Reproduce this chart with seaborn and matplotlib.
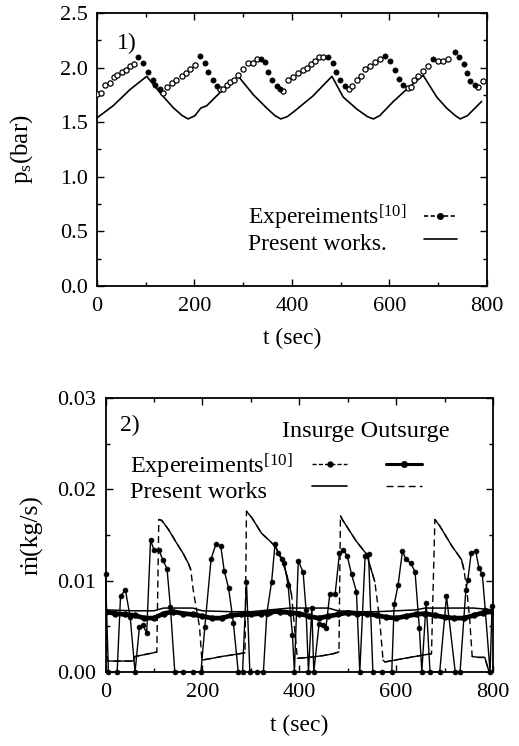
import numpy as np
import pandas as pd
import matplotlib
matplotlib.use("Agg")
import matplotlib.pyplot as plt
import seaborn as sns
from matplotlib.lines import Line2D
from matplotlib.ticker import MultipleLocator, FormatStrFormatter

# ---------------- data: panel 1 (pressure) ----------------
ps_sim_t = [0, 33, 68, 102, 133, 157, 175, 187, 201, 213, 225, 252, 290, 321, 348, 365,
            377, 390, 402, 443, 482, 505, 533, 555, 567, 580, 608, 635, 669, 697, 717,
            735, 745, 760, 789]
ps_sim_p = [1.54, 1.65, 1.80, 1.92, 1.75, 1.63, 1.56, 1.53, 1.56, 1.63, 1.65, 1.77, 1.92,
            1.75, 1.63, 1.56, 1.53, 1.55, 1.59, 1.74, 1.92, 1.73, 1.62, 1.55, 1.53, 1.56,
            1.69, 1.80, 1.93, 1.73, 1.63, 1.56, 1.53, 1.56, 1.69]

ps_exp_t = [0, 8, 16, 27, 34, 42, 51, 60, 68, 76, 85, 95, 105, 114, 120, 129, 135, 143,
            153, 163, 174, 183, 191, 201, 211, 222, 228, 237, 246, 252, 259, 266, 273,
            281, 290, 300, 310, 319, 328, 336, 345, 351, 358, 369, 375, 382, 392, 403,
            413, 422, 430, 439, 447, 456, 464, 474, 485, 490, 499, 509, 516, 524, 533,
            541, 550, 560, 570, 581, 591, 601, 611, 620, 628, 639, 645, 650, 659, 669,
            680, 690, 700, 710, 721, 734, 743, 752, 758, 765, 775, 782, 792]
ps_exp_p = [1.755, 1.77, 1.84, 1.855, 1.91, 1.93, 1.96, 1.98, 2.01, 2.03, 2.10, 2.045,
            1.96, 1.89, 1.84, 1.80, 1.77, 1.82, 1.855, 1.89, 1.92, 1.95, 1.99, 2.02, 2.11,
            2.04, 1.96, 1.89, 1.83, 1.80, 1.80, 1.84, 1.87, 1.89, 1.93, 1.99, 2.04, 2.04,
            2.075, 2.08, 2.05, 1.96, 1.89, 1.83, 1.80, 1.79, 1.89, 1.91, 1.95, 1.98, 2.00,
            2.03, 2.06, 2.10, 2.10, 2.10, 2.04, 1.96, 1.89, 1.83, 1.80, 1.83, 1.89, 1.92,
            1.99, 2.01, 2.05, 2.08, 2.11, 2.06, 1.98, 1.90, 1.84, 1.81, 1.82, 1.89, 1.92,
            1.97, 2.01, 2.08, 2.06, 2.06, 2.08, 2.14, 2.10, 2.03, 1.95, 1.88, 1.84, 1.82,
            1.88]

# ---------------- data: panel 2 (mass flow) ----------------
exp_in_t = [0, 6, 24, 31, 41, 51, 61, 70, 77, 85, 93, 100, 110, 118, 127, 134, 143, 160,
            180, 197, 205, 218, 228, 238, 245, 254, 264, 274, 283, 291, 298, 312, 326,
            333, 343, 350, 357, 365, 369, 377, 386, 390, 398, 408, 414, 419, 426, 430,
            441, 448, 455, 463, 474, 483, 491, 499, 508, 518, 525, 536, 543, 552, 570,
            591, 596, 604, 613, 620, 630, 639, 648, 653, 662, 670, 690, 704, 722, 732,
            744, 748, 755, 764, 771, 778, 784, 794, 798]
exp_in_v = [0.0107, 0.0, 0.0, 0.0083, 0.0090, 0.0060, 0.0, 0.0049, 0.0051, 0.0043, 0.0144,
            0.0134, 0.0134, 0.0123, 0.0113, 0.0071, 0.0, 0.0, 0.0, 0.0, 0.0049, 0.0124,
            0.0140, 0.0138, 0.0111, 0.0092, 0.0054, 0.0, 0.0, 0.0099, 0.0, 0.0, 0.0,
            0.0064, 0.0099, 0.0140, 0.0130, 0.0124, 0.0119, 0.0095, 0.0040, 0.0, 0.0122,
            0.0109, 0.0068, 0.0, 0.0070, 0.0, 0.0053, 0.0052, 0.0048, 0.0085, 0.0085,
            0.0130, 0.0134, 0.0127, 0.0107, 0.0088, 0.0, 0.0127, 0.0129, 0.0, 0.0,
            0.0, 0.0074, 0.0095, 0.0132, 0.0124, 0.0119, 0.0110, 0.0048, 0.0, 0.0076, 0.0,
            0.0, 0.0083, 0.0, 0.0, 0.0090, 0.0101, 0.0130, 0.0133, 0.0114, 0.0107, 0.0068,
            0.0, 0.0072]

exp_out_t = [0, 20, 40, 60, 80, 100, 120, 140, 160, 180, 200, 220, 240, 260, 280, 300,
             320, 340, 360, 380, 400, 420, 440, 460, 480, 500, 520, 540, 560, 580, 600,
             620, 640, 660, 680, 700, 720, 740, 760, 780, 800]
exp_out_v = [0.0066, 0.0064, 0.0063, 0.0062, 0.0059, 0.0059, 0.0064, 0.0066, 0.0064,
             0.0063, 0.0061, 0.0059, 0.0059, 0.0062, 0.0063, 0.0063, 0.0064, 0.0066,
             0.0066, 0.0065, 0.0064, 0.0061, 0.0059, 0.0061, 0.0063, 0.0065, 0.0064,
             0.0064, 0.0062, 0.0060, 0.0059, 0.0061, 0.0063, 0.0064, 0.0062, 0.0060,
             0.0059, 0.0059, 0.0062, 0.0065, 0.0066]

sim_in_t = [0, 60, 100, 120, 180, 200, 260, 300, 340, 380, 460, 480, 520, 560, 640, 660,
            760, 800]
sim_in_v = [0.0068, 0.0067, 0.0067, 0.0070, 0.0070, 0.0067, 0.0066, 0.0066, 0.0068,
            0.0070, 0.0070, 0.0067, 0.0066, 0.0066, 0.0068, 0.0070, 0.0070, 0.0068]

sim_out_t = [0, 4, 30, 57, 61, 80, 99, 106, 110, 116, 130, 147, 160, 171, 176, 181, 188,
             194, 199, 220, 240, 265, 288, 291, 302, 322, 350, 367, 377, 384, 390, 396,
             420, 450, 470, 482, 485, 490, 518, 539, 545, 556, 566, 573, 577, 618, 650,
             673, 680, 690, 715, 735, 740, 746, 752, 757, 770, 783, 792]
sim_out_v = [0.0066, 0.0012, 0.0012, 0.0012, 0.0017, 0.0019, 0.0021, 0.0022, 0.0167,
             0.0166, 0.0156, 0.0141, 0.0130, 0.0119, 0.0112, 0.0090, 0.0068, 0.0050,
             0.0013, 0.0015, 0.0017, 0.0019, 0.0021, 0.0176, 0.0169, 0.0152, 0.0138,
             0.0119, 0.0101, 0.0085, 0.0050, 0.0015, 0.0016, 0.0018, 0.0020, 0.0022,
             0.0171, 0.0166, 0.0143, 0.0129, 0.0118, 0.0099, 0.0057, 0.0013, 0.0011,
             0.0015, 0.0018, 0.0020, 0.0167, 0.0160, 0.0138, 0.0123, 0.0112, 0.0090,
             0.0057, 0.0017, 0.0016, 0.0016, 0.0]

# ---------------- style ----------------
sns.set_theme(style="ticks")
plt.rcParams["font.family"] = ["Liberation Serif", "DejaVu Serif"]
plt.rcParams["mathtext.fontset"] = "custom"
plt.rcParams["mathtext.rm"] = "Liberation Serif"
plt.rcParams["mathtext.it"] = "Liberation Serif:italic"
plt.rcParams["mathtext.bf"] = "Liberation Serif:bold"
plt.rcParams["text.color"] = "black"
plt.rcParams["axes.labelcolor"] = "black"

fig = plt.figure(figsize=(5.19, 7.46), dpi=100)
ax1 = fig.add_axes([0.1869, 0.6166, 0.7514, 0.3660])
ax2 = fig.add_axes([0.2033, 0.0992, 0.7466, 0.3673])

K = "black"

# ---------------- panel 1 ----------------
df_sim = pd.DataFrame({"t": ps_sim_t, "p": ps_sim_p})
sns.lineplot(data=df_sim, x="t", y="p", ax=ax1, color=K, lw=1.2,
             estimator=None, sort=False)

df_exp = pd.DataFrame({"t": ps_exp_t, "p": ps_exp_p})
falling = np.r_[np.diff(df_exp["p"].values) < 0, False]
sns.scatterplot(data=df_exp[~falling], x="t", y="p", ax=ax1, marker="o", s=14,
                facecolor="white", edgecolor=K, linewidth=0.9, zorder=3)
sns.scatterplot(data=df_exp[falling], x="t", y="p", ax=ax1, marker="o", s=14,
                color=K, edgecolor=K, linewidth=0.5, zorder=3)

ax1.set_xlim(0, 800)
ax1.set_ylim(0, 2.5)
ax1.xaxis.set_major_locator(MultipleLocator(200))
ax1.xaxis.set_minor_locator(MultipleLocator(100))
ax1.yaxis.set_major_locator(MultipleLocator(0.5))
ax1.yaxis.set_minor_locator(MultipleLocator(0.25))
ax1.yaxis.set_major_formatter(FormatStrFormatter("%.1f"))
ax1.set_xlabel("t (sec)", fontsize=17)
ax1.set_ylabel("p$_\\mathrm{s}$(bar)", fontsize=18)
ax1.text(0.077, 0.89, "1)", transform=ax1.transAxes, fontsize=17,
         ha="center", va="center")

blank = Line2D([], [], linestyle="none")
h_exp1 = Line2D([], [], color=K, lw=1.2, ls=(0, (2.5, 1.5)), marker="o", ms=4)
h_sim1 = Line2D([], [], color=K, lw=1.2)
ax1.legend([blank, blank, h_exp1, h_sim1],
           ["Expereiments$^{[10]}$", "Present works.", "", ""],
           ncol=2, frameon=False, fontsize=17, handlelength=1.36,
           handletextpad=0.3, columnspacing=0.76, labelspacing=0.05,
           borderpad=0, borderaxespad=0, loc="upper left",
           bbox_to_anchor=(0.4025, 0.728), bbox_transform=fig.transFigure)

# ---------------- panel 2 ----------------
df_in = pd.DataFrame({"t": exp_in_t, "v": exp_in_v})
sns.lineplot(data=df_in, x="t", y="v", ax=ax2, color=K, lw=1.0, marker="o",
             markersize=3.5, markeredgecolor=K, markeredgewidth=0.5,
             estimator=None, sort=False, clip_on=False, zorder=3)

df_out = pd.DataFrame({"t": exp_out_t, "v": exp_out_v})
sns.lineplot(data=df_out, x="t", y="v", ax=ax2, color=K, lw=3.4, marker="o",
             markersize=4, markeredgecolor=K, markeredgewidth=0.5,
             estimator=None, sort=False, zorder=3)

df_sin = pd.DataFrame({"t": sim_in_t, "v": sim_in_v})
sns.lineplot(data=df_sin, x="t", y="v", ax=ax2, color=K, lw=1.1,
             estimator=None, sort=False)

pt = np.array(sim_out_t, dtype=float)
pv = np.array(sim_out_v, dtype=float)
steep = np.abs(np.diff(pv) / np.diff(pt)) > 0.00025
df_sout = pd.DataFrame({"t": pt, "v": pv, "seg": np.r_[0, np.cumsum(steep)]})
sns.lineplot(data=df_sout, x="t", y="v", ax=ax2, color=K, lw=1.0,
             linestyle=(0, (5, 3)), estimator=None, sort=False)
sns.lineplot(data=df_sout, x="t", y="v", units="seg", ax=ax2, color=K, lw=1.0,
             estimator=None, sort=False)

ax2.set_xlim(0, 800)
ax2.set_ylim(0, 0.03)
ax2.xaxis.set_major_locator(MultipleLocator(200))
ax2.xaxis.set_minor_locator(MultipleLocator(100))
ax2.yaxis.set_major_locator(MultipleLocator(0.01))
ax2.yaxis.set_minor_locator(MultipleLocator(0.005))
ax2.yaxis.set_major_formatter(FormatStrFormatter("%.2f"))
ax2.set_xlabel("t (sec)", fontsize=17)
ax2.set_ylabel("ṁ(kg/s)", fontsize=18.5)
ax2.text(0.063, 0.90, "2)", transform=ax2.transAxes, fontsize=17,
         ha="center", va="center")
ax2.text(0.671, 0.876, "Insurge Outsurge", transform=ax2.transAxes, fontsize=17.5,
         ha="center", va="center")

h_exp_in = Line2D([], [], color=K, lw=1.0, ls=(0, (3, 1.5)), marker="o", ms=3.5)
h_exp_out = Line2D([], [], color=K, lw=2.2, marker="o", ms=4)
h_sim_in = Line2D([], [], color=K, lw=1.2)
h_sim_out = Line2D([], [], color=K, lw=1.0, ls=(0, (5, 3)))
ax2.legend([blank, blank, h_exp_in, h_sim_in, h_exp_out, h_sim_out],
           ["Expereiments$^{[10]}$", "Present works", "", "", "", ""],
           ncol=3, frameon=False, fontsize=17.5, handlelength=1.48,
           handletextpad=0.82, columnspacing=0.78, labelspacing=0.0,
           borderpad=0, borderaxespad=0, loc="upper left",
           bbox_to_anchor=(0.1426, 0.3954), bbox_transform=fig.transFigure)

# ---------------- axes cosmetics ----------------
for ax in (ax1, ax2):
    for sp in ax.spines.values():
        sp.set_visible(True)
        sp.set_linewidth(1.3)
        sp.set_color(K)
    ax.tick_params(which="both", direction="in", top=True, right=True,
                   color=K, width=1.0, labelcolor=K)
    ax.tick_params(which="major", length=5, labelsize=16)
    ax.tick_params(which="minor", length=3)
    ax.tick_params(axis="y", which="major", pad=6.5)
    ax.tick_params(axis="x", which="major", pad=8)
    ax.yaxis.set_label_coords(-0.159, 0.5)
    ax.xaxis.set_label_coords(0.5, -0.155)
    ax.grid(False)

fig.savefig("out.png", dpi=100, facecolor="white")
